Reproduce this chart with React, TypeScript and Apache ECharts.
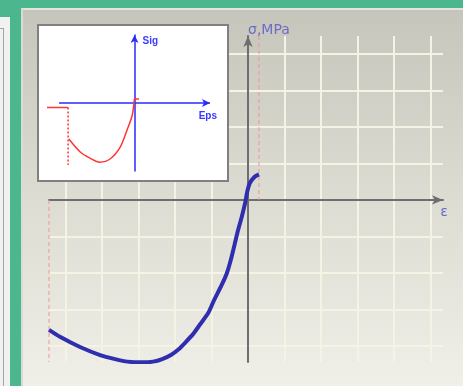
import { useEffect, useRef } from "react";
import * as echarts from "echarts";

// Main stress–strain curve, in grid-cell units (one cell per grid step)
const STRAIN = [-5.45, -5.15, -4.6, -4.05, -3.64, -3.3, -2.9, -2.6, -2.35, -2.1, -1.9, -1.73, -1.5, -1.32, -1.09, -0.95, -0.72, -0.58, -0.47, -0.36, -0.27, -0.17, -0.08, -0.02, 0.05, 0.19, 0.3];
const STRESS = [-3.56, -3.75, -4.03, -4.25, -4.36, -4.43, -4.45, -4.43, -4.36, -4.24, -4.09, -3.92, -3.67, -3.42, -3.1, -2.79, -2.33, -2.01, -1.64, -1.19, -0.82, -0.46, -0.09, 0.23, 0.46, 0.64, 0.7];

// Plot extent and grid positions
const STRAIN_MIN = -5.45;
const STRAIN_MAX = 5.34;
const STRESS_MIN = -4.44;
const STRESS_MAX = 4.49;
const GRID_STRAIN = [-5, -4, -3, -2, -1, 0, 1, 2, 3, 4, 5];
const GRID_STRESS = [-4, -3, -2, -1, 0, 1, 2, 3, 4];

// Strain limits marked with dashed lines
const STRAIN_LIMIT_LOW = -5.45;
const STRAIN_LIMIT_HIGH = 0.3;

// Small sketch of the diagram type (normalised units)
const SKETCH_EPS_MIN = -1.16;
const SKETCH_EPS_AXIS = [-1, 1];
const SKETCH_EPS = [-0.87, -0.72, -0.59, -0.46, -0.32, -0.19, -0.1, -0.03, -0.007, 0, 0.06];
const SKETCH_SIG = [-0.53, -0.72, -0.81, -0.87, -0.82, -0.65, -0.4, -0.18, 0, 0.06, 0.06];
const SKETCH_CAP_EPS = [-1.16, -0.88];
const SKETCH_CAP_SIG = [-0.066, -0.066];
const SKETCH_DROP_EPS = [-0.88, -0.88];
const SKETCH_DROP_SIG = [-0.066, -0.91];

const zip = (xs: number[], ys: number[]) => xs.map((x, i) => [x, ys[i]]);

export default function App() {
  const ref = useRef<HTMLDivElement>(null);

  useEffect(() => {
    if (!ref.current) return;
    const chart = echarts.init(ref.current, undefined, { renderer: "svg" });

    const mainName = { color: "#6c6cc6", fontFamily: "DejaVu Sans", fontSize: 14 };
    const sketchName = { color: "#3a3aff", fontFamily: "Liberation Sans", fontWeight: "bold" as const, fontSize: 10 };
    const sketchRed = "#ff3434";
    const sketchBlue = "#2a2aff";

    chart.setOption({
      animation: false,
      graphic: [
        { type: "rect", z: -10, silent: true, shape: { x: 0, y: 0, width: 463, height: 386 }, style: { fill: "#4cb78f" } },
        // left neighbour panel
        { type: "rect", z: -9, silent: true, shape: { x: 0, y: 17, width: 10, height: 369 }, style: { fill: "#f1f1f1" } },
        { type: "line", z: -8, silent: true, shape: { x1: 3.5, y1: 28, x2: 3.5, y2: 386 }, style: { stroke: "#a4a4a4", lineWidth: 1 } },
        { type: "line", z: -8, silent: true, shape: { x1: 0, y1: 28.5, x2: 3.5, y2: 28.5 }, style: { stroke: "#a4a4a4", lineWidth: 1 } },
        // main panel
        {
          type: "rect", z: -9, silent: true,
          shape: { x: 21, y: 8, width: 442, height: 378 },
          style: {
            fill: new echarts.graphic.LinearGradient(0, 0, 0, 1, [
              { offset: 0, color: "#c6c5bb" },
              { offset: 0.5, color: "#dddcd2" },
              { offset: 1, color: "#f0efe8" },
            ]),
          },
        },
        { type: "line", z: -8, silent: true, shape: { x1: 21, y1: 9, x2: 463, y2: 9 }, style: { stroke: "#e4e3dc", lineWidth: 2 } },
        { type: "line", z: -8, silent: true, shape: { x1: 22, y1: 8, x2: 22, y2: 386 }, style: { stroke: "#dcdbd3", lineWidth: 2 } },
        // inset frame
        { type: "rect", z: 10, silent: true, shape: { x: 38, y: 25, width: 190, height: 156 }, style: { fill: "#ffffff", stroke: "#808080", lineWidth: 2 } },
      ],
      grid: [
        { left: 49, right: 20, top: 36, bottom: 24 },
        { left: 47, top: 35, width: 163, height: 136 },
      ],
      xAxis: [
        {
          type: "value", gridIndex: 0, min: STRAIN_MIN, max: STRAIN_MAX, z: 3,
          axisLine: { onZero: true, lineStyle: { color: "#6e6e6e", width: 2 }, symbol: ["none", "arrow"], symbolSize: [7, 11] },
          axisTick: { show: false }, axisLabel: { show: false }, splitLine: { show: false },
          name: "ε", nameLocation: "end", nameGap: 1,
          nameTextStyle: { ...mainName, align: "center", verticalAlign: "top", padding: [4, 0, 0, 0] },
        },
        {
          type: "value", gridIndex: 1, min: SKETCH_EPS_MIN, max: SKETCH_EPS_AXIS[1], z: 11,
          axisLine: { show: false },
          axisTick: { show: false }, axisLabel: { show: false }, splitLine: { show: false },
          name: "Eps", nameLocation: "end", nameGap: 7,
          nameTextStyle: { ...sketchName, align: "right", verticalAlign: "top", padding: [7, 0, 0, 0] },
        },
      ],
      yAxis: [
        {
          type: "value", gridIndex: 0, min: STRESS_MIN, max: STRESS_MAX, z: 3,
          axisLine: { onZero: true, lineStyle: { color: "#6e6e6e", width: 2 }, symbol: ["none", "arrow"], symbolSize: [7, 11] },
          axisTick: { show: false }, axisLabel: { show: false }, splitLine: { show: false },
          name: "σ,MPa", nameLocation: "end", nameGap: 0,
          nameTextStyle: { ...mainName, align: "left", verticalAlign: "bottom", padding: [0, 0, 0, 0] },
        },
        {
          type: "value", gridIndex: 1, min: -1, max: 1, z: 11,
          axisLine: { onZero: true, lineStyle: { color: sketchBlue, width: 1.5 }, symbol: ["none", "arrow"], symbolSize: [6, 8] },
          axisTick: { show: false }, axisLabel: { show: false }, splitLine: { show: false },
          name: "Sig", nameLocation: "end", nameGap: 0,
          nameTextStyle: { ...sketchName, align: "left", verticalAlign: "top", padding: [0, 0, 0, 8] },
        },
      ],
      series: [
        {
          type: "line", name: "σ(ε)", xAxisIndex: 0, yAxisIndex: 0, z: 5,
          data: zip(STRAIN, STRESS), showSymbol: false, smooth: 0.2,
          lineStyle: { color: "#2e2eae", width: 4 },
          markLine: {
            silent: true, z: 1, symbol: ["none", "none"], label: { show: false },
            lineStyle: { color: "#f5f3e3", width: 2, type: "solid" },
            emphasis: { disabled: true },
            data: [
              ...GRID_STRAIN.map((v) => ({ xAxis: v })),
              ...GRID_STRESS.map((v) => ({ yAxis: v })),
            ],
          },
        },
        {
          type: "line", xAxisIndex: 0, yAxisIndex: 0, z: 4, clip: false, showSymbol: false,
          data: [[STRAIN_LIMIT_LOW, 0], [STRAIN_LIMIT_LOW, STRESS_MIN]],
          lineStyle: { color: "#ef9595", width: 1, type: [4, 3] },
        },
        {
          type: "line", xAxisIndex: 0, yAxisIndex: 0, z: 4, clip: false, showSymbol: false,
          data: [[STRAIN_LIMIT_HIGH, STRESS_MAX], [STRAIN_LIMIT_HIGH, 0]],
          lineStyle: { color: "#ef9595", width: 1, type: [4, 3] },
        },
        {
          // horizontal axis of the sketch, with its arrow
          type: "line", xAxisIndex: 1, yAxisIndex: 1, z: 11, showSymbol: false, data: [],
          markLine: {
            silent: true, z: 11, symbol: ["none", "arrow"], symbolSize: [6, 8], label: { show: false },
            lineStyle: { color: sketchBlue, width: 1.5, type: "solid" },
            emphasis: { disabled: true },
            data: [[{ coord: [SKETCH_EPS_AXIS[0], 0] }, { coord: [SKETCH_EPS_AXIS[1], 0] }]],
          },
        },
        {
          type: "line", xAxisIndex: 1, yAxisIndex: 1, z: 12, clip: false, showSymbol: false,
          data: zip(SKETCH_CAP_EPS, SKETCH_CAP_SIG),
          lineStyle: { color: sketchRed, width: 1.5 },
        },
        {
          type: "line", xAxisIndex: 1, yAxisIndex: 1, z: 12, clip: false, showSymbol: false,
          data: zip(SKETCH_DROP_EPS, SKETCH_DROP_SIG),
          lineStyle: { color: sketchRed, width: 1.5, type: [2, 2] },
        },
        {
          type: "line", xAxisIndex: 1, yAxisIndex: 1, z: 12, clip: false, showSymbol: false,
          data: zip(SKETCH_EPS, SKETCH_SIG), smooth: 0.3,
          lineStyle: { color: sketchRed, width: 1.5 },
        },
      ],
    });

    return () => chart.dispose();
  }, []);

  return <div ref={ref} style={{ position: "fixed", left: 0, top: 0, width: 463, height: 386 }} />;
}
